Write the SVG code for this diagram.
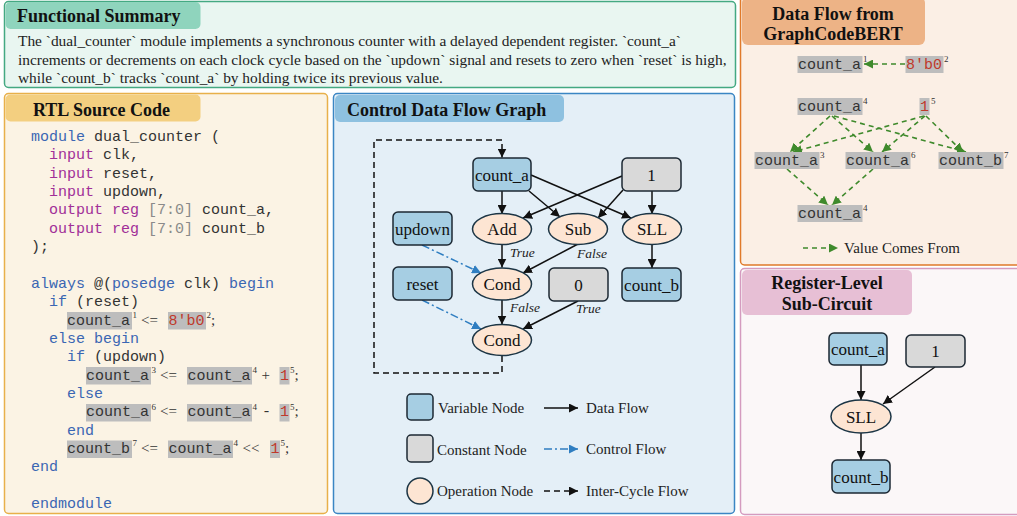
<svg xmlns="http://www.w3.org/2000/svg" width="1017" height="516" viewBox="0 0 1017 516">
<style>
.title{font-family:"Liberation Serif",serif;font-weight:bold;font-size:18px;fill:#111}
.body{font-family:"Liberation Serif",serif;font-size:15.4px;fill:#222}
.code{font-family:"Liberation Mono",monospace;font-size:15px;fill:#333}
.kw{fill:#3a66b3}
.io{fill:#a12f98}
.rng{fill:#8a8a8a}
.num{fill:#c0392b}
.op{font-family:"Liberation Serif",serif;font-size:15px;fill:#333}
.sup{font-family:"Liberation Serif",serif;font-size:9px;fill:#333}
.hl{fill:#bdbdbd}
.var{fill:#a6cee3;stroke:#1c2833;stroke-width:1.5}
.const{fill:#d9d9d9;stroke:#1c2833;stroke-width:1.5}
.oper{fill:#fde5d3;stroke:#1c3545;stroke-width:1.5}
.nt{font-family:"Liberation Serif",serif;font-size:17px;fill:#111;text-anchor:middle}
.lbl{font-family:"Liberation Serif",serif;font-style:italic;font-size:13.5px;fill:#222}
.leg{font-family:"Liberation Serif",serif;font-size:15px;fill:#222}
.data{fill:none;stroke:#111;stroke-width:1.5;marker-end:url(#ab)}
.ctrl{fill:none;stroke:#2f7ec1;stroke-width:1.5;stroke-dasharray:8 3 2 3;marker-end:url(#abl)}
.inter{fill:none;stroke:#111;stroke-width:1.5;stroke-dasharray:6 4}
.gflow{fill:none;stroke:#3f8a2c;stroke-width:1.6;stroke-dasharray:5 4;marker-end:url(#ag)}
</style>
<defs>
<marker id="ab" viewBox="0 0 10 10" refX="10" refY="5" markerWidth="9" markerHeight="9" markerUnits="userSpaceOnUse" orient="auto"><path d="M0,0 L10,5 L0,10 z" fill="#111"/></marker>
<marker id="abl" viewBox="0 0 10 10" refX="10" refY="5" markerWidth="9" markerHeight="9" markerUnits="userSpaceOnUse" orient="auto"><path d="M0,0 L10,5 L0,10 z" fill="#2f7ec1"/></marker>
<marker id="ag" viewBox="0 0 10 10" refX="10" refY="5" markerWidth="9" markerHeight="9" markerUnits="userSpaceOnUse" orient="auto"><path d="M0,0 L10,5 L0,10 z" fill="#3f8a2c"/></marker>
</defs>
<rect width="1017" height="516" fill="#ffffff"/>

<!-- Functional Summary -->
<g id="panel-summary">
<rect x="4.5" y="1.5" width="731" height="86" rx="4" fill="#e9f6f1" stroke="#44a982" stroke-width="1.5"/>
<rect x="5.5" y="2" width="195" height="27" rx="5" fill="#8fd4bd"/>
<text class="title" x="17" y="22">Functional Summary</text>
<text class="body" x="18" y="46">The `dual_counter` module implements a synchronous counter with a delayed dependent register. `count_a`</text>
<text class="body" x="18" y="64.5">increments or decrements on each clock cycle based on the `updown` signal and resets to zero when `reset` is high,</text>
<text class="body" x="18" y="83">while `count_b` tracks `count_a` by holding twice its previous value.</text>
</g>

<!-- RTL Source Code -->
<g id="panel-rtl">
<rect x="4.5" y="93.5" width="323" height="420" rx="4" fill="#fbf3e4" stroke="#e8b04a" stroke-width="1.5"/>
<rect x="5.5" y="94.5" width="195" height="27" rx="5" fill="#f3cf80"/>
<text class="title" x="33" y="116">RTL Source Code</text>
<text class="code" x="31" y="141"><tspan class="kw">module</tspan> dual_counter (</text>
<text class="code" x="49" y="159.4"><tspan class="io">input</tspan> clk,</text>
<text class="code" x="49" y="177.7"><tspan class="io">input</tspan> reset,</text>
<text class="code" x="49" y="196"><tspan class="io">input</tspan> updown,</text>
<text class="code" x="49" y="214.4"><tspan class="io">output reg</tspan> <tspan class="rng">[7:0]</tspan> count_a,</text>
<text class="code" x="49" y="232.8"><tspan class="io">output reg</tspan> <tspan class="rng">[7:0]</tspan> count_b</text>
<text class="code" x="31" y="251">);</text>
<text class="code" x="31" y="288"><tspan class="kw">always</tspan> @(<tspan class="kw">posedge</tspan> clk) <tspan class="kw">begin</tspan></text>
<text class="code" x="49" y="306"><tspan class="kw">if</tspan> (reset)</text>
<rect class="hl" x="67" y="312" width="65" height="17.5"/>
<text class="code" x="67" y="324.5">count_a</text>
<text class="sup" x="132.5" y="318">1</text>
<text class="op" x="141" y="324.5">&lt;=</text>
<rect class="hl" x="168" y="312" width="38" height="17.5"/>
<text class="code num" x="168.5" y="324.5">8'b0</text>
<text class="sup" x="206.5" y="318">2</text>
<text class="op" x="211" y="324.5">;</text>
<text class="code kw" x="49" y="343">else begin</text>
<text class="code" x="67" y="361.3"><tspan class="kw">if</tspan> (updown)</text>
<rect class="hl" x="86" y="367" width="65" height="17.5"/>
<text class="code" x="86" y="379.6">count_a</text>
<text class="sup" x="151.5" y="373">3</text>
<text class="op" x="160" y="379.6">&lt;=</text>
<rect class="hl" x="187" y="367" width="65" height="17.5"/>
<text class="code" x="187.5" y="379.6">count_a</text>
<text class="sup" x="252.5" y="373">4</text>
<text class="op" x="261.5" y="379.6">+</text>
<rect class="hl" x="279.5" y="367" width="10" height="17.5"/>
<text class="code num" x="280" y="379.6">1</text>
<text class="sup" x="290" y="373">5</text>
<text class="op" x="294.5" y="379.6">;</text>
<text class="code kw" x="67" y="398">else</text>
<rect class="hl" x="86" y="404" width="65" height="17.5"/>
<text class="code" x="86" y="416.3">count_a</text>
<text class="sup" x="151.5" y="409.7">6</text>
<text class="op" x="160" y="416.3">&lt;=</text>
<rect class="hl" x="187" y="404" width="65" height="17.5"/>
<text class="code" x="187.5" y="416.3">count_a</text>
<text class="sup" x="252.5" y="409.7">4</text>
<text class="code" x="262" y="416.3">-</text>
<rect class="hl" x="279.5" y="404" width="10" height="17.5"/>
<text class="code num" x="280" y="416.3">1</text>
<text class="sup" x="290" y="409.7">5</text>
<text class="op" x="294.5" y="416.3">;</text>
<text class="code kw" x="67" y="434.6">end</text>
<rect class="hl" x="67" y="440.5" width="65" height="17.5"/>
<text class="code" x="67" y="453">count_b</text>
<text class="sup" x="132.5" y="446.4">7</text>
<text class="op" x="141" y="453">&lt;=</text>
<rect class="hl" x="168" y="440.5" width="65" height="17.5"/>
<text class="code" x="168.5" y="453">count_a</text>
<text class="sup" x="233.5" y="446.4">4</text>
<text class="op" x="242.5" y="453">&lt;&lt;</text>
<rect class="hl" x="270" y="440.5" width="10" height="17.5"/>
<text class="code num" x="270.5" y="453">1</text>
<text class="sup" x="280.5" y="446.4">5</text>
<text class="op" x="285" y="453">;</text>
<text class="code kw" x="31" y="471.3">end</text>
<text class="code kw" x="31" y="508">endmodule</text>
</g>

<!-- CDFG panel -->
<g id="panel-cdfg">
<rect x="333.5" y="93.5" width="401" height="420" rx="4" fill="#e4eff7" stroke="#3b86c4" stroke-width="1.5"/>
<rect x="335" y="95" width="229" height="27" rx="5" fill="#8ec1e0"/>
<text class="title" x="347" y="116">Control Data Flow Graph</text>
</g>

<!-- Data Flow from GraphCodeBERT panel -->
<g id="panel-dataflow">
<rect x="740.5" y="-5" width="285" height="270" rx="4" fill="#fbefe5" stroke="#e07a2a" stroke-width="1.5"/>
<rect x="742" y="-3" width="183" height="48" rx="6" fill="#edb386"/>
<text class="title" x="833" y="20" text-anchor="middle">Data Flow from</text>
<text class="title" x="833" y="40" text-anchor="middle">GraphCodeBERT</text>
</g>

<!-- Register-Level Sub-Circuit panel -->
<g id="panel-register">
<rect x="740.5" y="268.5" width="285" height="246" rx="4" fill="#fbf7f8" stroke="#d49bbf" stroke-width="1.5"/>
<rect x="742" y="270" width="170" height="45" rx="5" fill="#e7bfd5"/>
<text class="title" x="827" y="289" text-anchor="middle">Register-Level</text>
<text class="title" x="827" y="310" text-anchor="middle">Sub-Circuit</text>
</g>

<g id="connectors">
<path class="data" d="M502,191 L502,214"/>
<path class="data" d="M529,191 L560,217"/>
<path class="data" d="M531,175 L631,218"/>
<path class="data" d="M622,176 L523,218"/>
<path class="data" d="M623,190 L598,218"/>
<path class="data" d="M652,191 L652,214"/>
<path class="data" d="M502,244 L502,267.5"/>
<path class="data" d="M578,244 L523,273"/>
<path class="data" d="M652,244 L652,268"/>
<path class="ctrl" d="M422,245 L481,273"/>
<path class="ctrl" d="M422,300 L481,329"/>
<path class="data" d="M502,300 L502,324.5"/>
<path class="data" d="M578,301 L523,329"/>
<path class="inter" d="M502,356 L502,373 L374,373 L374,140 L502,140 L502,150"/>
<path d="M502,149 L502,157.5" fill="none" stroke="#111" stroke-width="1.5" marker-end="url(#ab)"/>
<text class="lbl" x="510" y="257">True</text>
<text class="lbl" x="577" y="258">False</text>
<text class="lbl" x="510" y="312">False</text>
<text class="lbl" x="576" y="313">True</text>
<path class="gflow" d="M905,64 L864,64"/>
<path class="gflow" d="M830,116 L790,152"/>
<path class="gflow" d="M832,116 L873,152"/>
<path class="gflow" d="M834,116 L966,152"/>
<path class="gflow" d="M924,116 L793,152"/>
<path class="gflow" d="M925,116 L882,152"/>
<path class="gflow" d="M926,116 L963,152"/>
<path class="gflow" d="M787,169 L828,205"/>
<path class="gflow" d="M873,169 L832,205"/>
<path class="data" d="M861,365 L861,400"/>
<path class="data" d="M935,367 L883,404"/>
<path class="data" d="M861,433 L861,460"/>
</g>

<g id="node-count_a"><rect class="var" x="473" y="158" width="58" height="33" rx="5"/><text class="nt" x="502" y="180.5">count_a</text></g>
<g id="node-one"><rect class="const" x="622" y="158" width="59" height="33" rx="5"/><text class="nt" x="651.5" y="180.5">1</text></g>
<g id="node-add"><ellipse class="oper" cx="502" cy="229" rx="29.5" ry="15.5"/><text class="nt" x="502" y="235">Add</text></g>
<g id="node-sub"><ellipse class="oper" cx="578" cy="229" rx="29.5" ry="15.5"/><text class="nt" x="578" y="235">Sub</text></g>
<g id="node-sll"><ellipse class="oper" cx="652" cy="229" rx="29.5" ry="15.5"/><text class="nt" x="652" y="235">SLL</text></g>
<g id="node-updown"><rect class="var" x="393" y="212" width="59" height="33" rx="5"/><text class="nt" x="422.5" y="234.5">updown</text></g>
<g id="node-reset"><rect class="var" x="393" y="267" width="59" height="33" rx="5"/><text class="nt" x="422.5" y="289.5">reset</text></g>
<g id="node-cond1"><ellipse class="oper" cx="502" cy="284" rx="29.5" ry="16"/><text class="nt" x="502" y="290">Cond</text></g>
<g id="node-zero"><rect class="const" x="549" y="268" width="59" height="33" rx="5"/><text class="nt" x="578.5" y="290.5">0</text></g>
<g id="node-count_b"><rect class="var" x="622" y="268" width="59" height="33" rx="5"/><text class="nt" x="651.5" y="290.5">count_b</text></g>
<g id="node-cond2"><ellipse class="oper" cx="502" cy="340" rx="29.5" ry="15.5"/><text class="nt" x="502" y="346">Cond</text></g>

<g id="legend-cdfg">
<rect class="var" x="407" y="394" width="26" height="26" rx="4"/>
<text class="leg" x="438" y="413">Variable Node</text>
<path class="data" d="M544,408 L578,408"/>
<text class="leg" x="586" y="413">Data Flow</text>
<rect class="const" x="407" y="435" width="26" height="27" rx="4"/>
<text class="leg" x="437" y="455">Constant Node</text>
<path class="ctrl" d="M544,449 L578,449"/>
<text class="leg" x="586" y="454">Control Flow</text>
<circle class="oper" cx="420" cy="491" r="13"/>
<text class="leg" x="437" y="496">Operation Node</text>
<path class="inter" d="M544,491 L572,491"/>
<path d="M570,491 L578,491" fill="none" stroke="#111" stroke-width="1.5" marker-end="url(#ab)"/>
<text class="leg" x="586" y="496">Inter-Cycle Flow</text>
</g>

<g id="df-count_a1"><rect class="hl" x="797.5" y="56" width="65" height="17"/><text class="code" x="798" y="68.5">count_a</text><text class="sup" x="863" y="62">1</text></g>
<g id="df-8b0"><rect class="hl" x="905.5" y="56" width="38" height="17"/><text class="code num" x="906" y="68.5">8'b0</text><text class="sup" x="944" y="62">2</text></g>
<g id="df-count_a4-top"><rect class="hl" x="797.5" y="98" width="65" height="17"/><text class="code" x="798" y="110.5">count_a</text><text class="sup" x="863" y="104">4</text></g>
<g id="df-one5"><rect class="hl" x="919.5" y="98" width="10" height="17"/><text class="code num" x="920" y="110.5">1</text><text class="sup" x="931" y="104">5</text></g>
<g id="df-count_a3"><rect class="hl" x="754.5" y="152" width="65" height="17"/><text class="code" x="755" y="164.5">count_a</text><text class="sup" x="820" y="158">3</text></g>
<g id="df-count_a6"><rect class="hl" x="845.5" y="152" width="65" height="17"/><text class="code" x="846" y="164.5">count_a</text><text class="sup" x="911" y="158">6</text></g>
<g id="df-count_b7"><rect class="hl" x="938.5" y="152" width="65" height="17"/><text class="code" x="939" y="164.5">count_b</text><text class="sup" x="1004" y="158">7</text></g>
<g id="df-count_a4-bot"><rect class="hl" x="797.5" y="205" width="65" height="17"/><text class="code" x="798" y="217.5">count_a</text><text class="sup" x="863" y="211">4</text></g>
<g id="legend-dataflow">
<path class="gflow" d="M803,248 L838,248"/>
<text class="leg" x="844" y="253">Value Comes From</text>
</g>

<g id="rl-count_a"><rect class="var" x="829" y="333" width="58" height="32" rx="5"/><text class="nt" x="858" y="355">count_a</text></g>
<g id="rl-one"><rect class="const" x="906" y="335" width="59" height="32" rx="5"/><text class="nt" x="935.5" y="357">1</text></g>
<g id="rl-sll"><ellipse class="oper" cx="861" cy="416.5" rx="30" ry="16.5"/><text class="nt" x="861" y="422.5">SLL</text></g>
<g id="rl-count_b"><rect class="var" x="832" y="460" width="58" height="33" rx="5"/><text class="nt" x="861" y="482.5">count_b</text></g>
</svg>
